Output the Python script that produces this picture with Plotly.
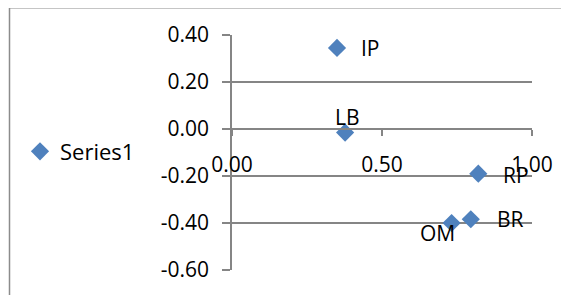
import plotly.graph_objects as go

# Data
point_labels = ["IP", "LB", "RP", "BR", "OM"]
x_values = [0.35, 0.377, 0.821, 0.796, 0.732]
y_values = [0.345, -0.015, -0.19, -0.384, -0.40]
series_name = "Series1"
x_ticks = [0.0, 0.5, 1.0]
y_ticks = [-0.6, -0.4, -0.2, 0.0, 0.2, 0.4]
x_tick_text = [f"{v:.2f}" for v in x_ticks]
y_tick_text = [f"{v:.2f}" for v in y_ticks]  # hyphen-minus, as in reference

# label placement style per point (anchor, xshift, yshift)
label_style = {
    "IP": ("left", 22, 0),
    "LB": ("center", 2, 16),
    "RP": ("left", 23, -1),
    "BR": ("left", 24, 0),
    "OM": ("center", -14, -10),
}

GRID = "#858585"
BLUE = "#4F81BD"
FONT = "Open Sans"

OFF = 8  # page body margin offset
W, H = 569 - OFF, 295 - OFF
# plot area in screen pixels: x 232..532, y 34..272
L, T = 232 - OFF, 34 - OFF
pw, ph = 300, 238
R, B = W - L - pw, H - T - ph

def px_x(p):  # screen px -> paper
    return (p - OFF - L) / pw

def px_y(p):
    return (H - B - (p - OFF)) / ph

fig = go.Figure()
fig.add_trace(go.Scatter(
    x=x_values, y=y_values, mode="markers", name=series_name,
    marker=dict(symbol="diamond", size=14, color=BLUE),
    showlegend=True, cliponaxis=False,
))

annotations = []
for lab, xv, yv in zip(point_labels, x_values, y_values):
    anc, xs, ys = label_style[lab]
    annotations.append(dict(
        x=xv, y=yv, xref="x", yref="y", text=lab, showarrow=False,
        xanchor=anc, yanchor="middle", xshift=xs, yshift=ys,
        font=dict(family=FONT, size=21, color="black"),
    ))

fig.update_layout(
    width=W, height=H,
    margin=dict(l=L, r=R, t=T, b=B),
    paper_bgcolor="white", plot_bgcolor="white",
    font=dict(family=FONT, size=21, color="black"),
    annotations=annotations,
    showlegend=True,
    legend=dict(x=px_x(20), y=px_y(152), xanchor="left", yanchor="middle",
                font=dict(family=FONT, size=22, color="black"),
                bgcolor="rgba(0,0,0,0)", itemwidth=30),
    shapes=[
        dict(type="line", xref="paper", yref="paper",
             x0=px_x(9.5), x1=px_x(9.5), y0=px_y(6.5), y1=px_y(320),
             line=dict(color="#8c8c8c", width=1.5)),
        dict(type="line", xref="paper", yref="paper",
             x0=px_x(9.5), x1=px_x(600), y0=px_y(6.5), y1=px_y(6.5),
             line=dict(color="#8c8c8c", width=1.5)),
    ],
    xaxis=dict(
        range=[0, 1], tickvals=x_ticks, ticktext=x_tick_text,
        showgrid=False, zeroline=False,
        showline=True, linecolor=GRID, linewidth=1.5,
        ticks="outside", ticklen=6, tickcolor=GRID, tickwidth=1.5,
        anchor="free", position=0.6, ticklabelstandoff=11,
        tickfont=dict(family=FONT, size=21, color="black"),
    ),
    yaxis=dict(
        range=[-0.6, 0.4], tickvals=y_ticks, ticktext=y_tick_text,
        showgrid=True, gridcolor=GRID, gridwidth=1.6, zeroline=False,
        showline=True, linecolor=GRID, linewidth=1.6,
        ticks="outside", ticklen=8, tickcolor=GRID, tickwidth=1.6,
        ticklabelstandoff=9,
        tickfont=dict(family=FONT, size=21, color="black"),
    ),
)

fig.write_html("out.html")
